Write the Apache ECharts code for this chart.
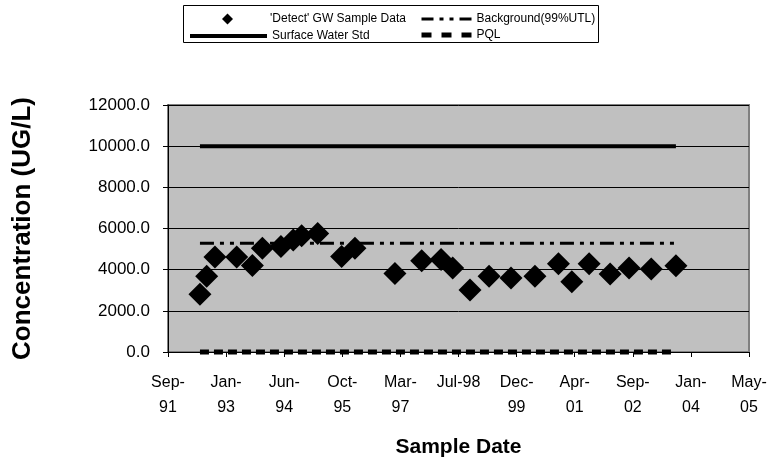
<!DOCTYPE html>
<html>
<head>
<meta charset="utf-8">
<script src="https://cdn.jsdelivr.net/npm/echarts@6/dist/echarts.min.js"></script>
<style>
	html, body { margin: 0; padding: 0; background: #fff; }
	#chart { width: 773px; height: 463px; }
</style>
</head>
<body>
<div id="chart"></div>
<script>
// Sample dates (ISO) and detected GW concentrations (UG/L)
const sampleDates = [
	'1992-06-20', '1992-08-17', '1992-10-27', '1993-05-02', '1993-09-14',
	'1993-12-09', '1994-05-18', '1994-09-01', '1994-11-12', '1995-03-30',
	'1995-10-22', '1996-02-14', '1997-01-23', '1997-09-10', '1998-02-24',
	'1998-06-04', '1998-10-31', '1999-04-13', '1999-10-19', '2000-05-12',
	'2000-11-30', '2001-03-25', '2001-08-21', '2002-02-18', '2002-07-31',
	'2003-02-07', '2003-09-07'
];
const detectValues = [
	2800, 3680, 4610, 4610, 4200,
	5040, 5120, 5440, 5650, 5760,
	4640, 5040, 3810, 4430, 4500,
	4080, 3010, 3680, 3600, 3680,
	4290, 3410, 4290, 3790, 4080,
	4030, 4190
];
const surfaceWaterStd = 10000;
const backgroundUtl = 5280;
const pql = 0;

// x axis is in Excel date serials, ticks every 500 days from 19-Sep-1991
const xMin = 33500;
const xMax = 38500;
const xStep = 500;
const tickLabels = [
	'Sep-\n91', 'Jan-\n93', 'Jun-\n94', 'Oct-\n95', 'Mar-\n97', 'Jul-98',
	'Dec-\n99', 'Apr-\n01', 'Sep-\n02', 'Jan-\n04', 'May-\n05'
];

const FONT = 'Liberation Sans, Arial, sans-serif';
const LEGEND_TEXT = { fontFamily: FONT, fontSize: 12, color: '#000' };

const toSerial = ( iso ) => ( Date.parse( iso ) - Date.UTC( 1899, 11, 30 ) ) / 86400000;
const xs = sampleDates.map( toSerial );
const flat = ( value ) => xs.map( ( x ) => [ x, value ] );

// hides the marker ECharts puts in the middle of line legend keys
const noMarker = { opacity: 0, color: 'transparent', borderWidth: 0 };

const chart = echarts.init( document.getElementById( 'chart' ), null, { renderer: 'canvas' } );

chart.setOption( {
	animation: false,
	textStyle: { fontFamily: FONT, color: '#000' },
	graphic: [ {
		type: 'rect',
		left: 183,
		top: 5,
		shape: { width: 415, height: 37 },
		style: { fill: '#fff', stroke: '#000', lineWidth: 1 },
		z: -1
	} ],
	legend: [ {
		// diamond key gets its own small box so it is not stretched
		left: 222,
		top: 13,
		padding: 0,
		itemWidth: 11,
		itemHeight: 11,
		textStyle: Object.assign( { padding: [ 0, 0, 0, 32 ] }, LEGEND_TEXT ),
		data: [ "'Detect' GW Sample Data" ]
	}, {
		left: 188,
		top: 30,
		padding: 0,
		itemWidth: 77,
		itemHeight: 11,
		textStyle: LEGEND_TEXT,
		data: [ { name: 'Surface Water Std', itemStyle: noMarker, lineStyle: { width: 4 } } ]
	}, {
		orient: 'vertical',
		left: 419,
		top: 13,
		padding: 0,
		itemWidth: 50,
		itemHeight: 11,
		itemGap: 4,
		textStyle: LEGEND_TEXT,
		data: [
			{ name: 'Background(99%UTL)', itemStyle: noMarker, lineStyle: { width: 3, type: [ 12, 6, 4, 6, 4, 6 ] } },
			{ name: 'PQL', itemStyle: noMarker, lineStyle: { width: 5, type: [ 10, 10 ] } }
		]
	} ],
	grid: {
		left: 168,
		right: 24,
		top: 105,
		bottom: 108,
		show: true,
		backgroundColor: '#C0C0C0',
		borderColor: '#808080',
		borderWidth: 2
	},
	xAxis: {
		type: 'value',
		min: xMin,
		max: xMax,
		interval: xStep,
		name: 'Sample Date',
		nameLocation: 'middle',
		nameGap: 85,
		nameTextStyle: { fontFamily: FONT, fontSize: 21, fontWeight: 'bold', color: '#000' },
		axisLine: { lineStyle: { color: '#000', width: 1 } },
		axisTick: { inside: false, length: 5, lineStyle: { color: '#000' } },
		axisLabel: {
			margin: 18,
			fontFamily: FONT,
			fontSize: 16,
			lineHeight: 25,
			color: '#000',
			verticalAlign: 'top',
			formatter: ( v ) => tickLabels[ Math.round( ( v - xMin ) / xStep ) ] || ''
		},
		splitLine: { show: false }
	},
	yAxis: {
		type: 'value',
		min: 0,
		max: 12000,
		interval: 2000,
		name: 'Concentration (UG/L)',
		nameLocation: 'middle',
		nameGap: 132,
		nameTextStyle: { fontFamily: FONT, fontSize: 26, fontWeight: 'bold', color: '#000' },
		axisLine: { show: true, lineStyle: { color: '#000', width: 1 } },
		axisTick: { show: true, length: 5, lineStyle: { color: '#000' } },
		axisLabel: {
			margin: 18,
			fontFamily: FONT,
			fontSize: 17,
			color: '#000',
			formatter: ( v ) => v.toFixed( 1 )
		},
		splitLine: { show: true, lineStyle: { color: '#000', width: 1 } }
	},
	series: [ {
		name: "'Detect' GW Sample Data",
		type: 'scatter',
		symbol: 'diamond',
		symbolSize: 23,
		itemStyle: { color: '#000', opacity: 1 },
		data: xs.map( ( x, i ) => [ x, detectValues[ i ] ] ),
		z: 3
	}, {
		name: 'Background(99%UTL)',
		type: 'line',
		symbol: 'none',
		itemStyle: { color: '#000' },
		lineStyle: { color: '#000', width: 3, type: [ 14, 6, 4, 6, 4, 6 ] },
		data: flat( backgroundUtl ),
		z: 2
	}, {
		name: 'Surface Water Std',
		type: 'line',
		symbol: 'none',
		itemStyle: { color: '#000' },
		lineStyle: { color: '#000', width: 4 },
		data: flat( surfaceWaterStd ),
		z: 2
	}, {
		name: 'PQL',
		type: 'line',
		symbol: 'none',
		clip: false,
		itemStyle: { color: '#000' },
		lineStyle: { color: '#000', width: 5, type: [ 9, 5 ] },
		data: flat( pql ),
		z: 2
	} ]
} );
</script>
</body>
</html>
